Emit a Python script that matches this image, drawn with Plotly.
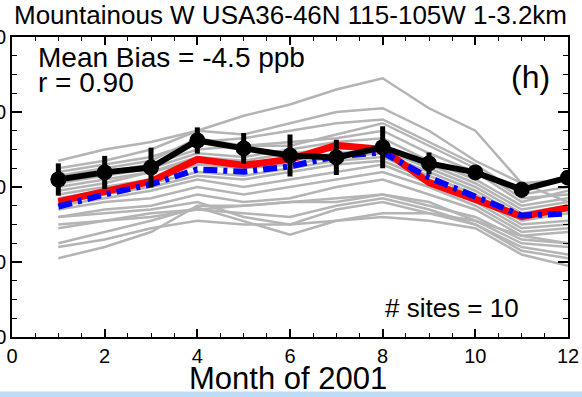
import plotly.graph_objects as go

months = list(range(1, 13))

obs_mean = [42.0, 43.9, 45.2, 52.4, 50.3, 48.4, 47.9, 50.6, 46.3, 43.9, 39.3, 42.5]
obs_err = [4.3, 4.4, 5.3, 3.5, 4.1, 5.6, 4.7, 5.6, 2.9, 0.8, 2.1, 0.8]
model_red = [36.1, 38.8, 41.5, 47.4, 45.8, 47.4, 51.1, 50.0, 41.2, 36.7, 32.1, 34.5]
model_blue = [34.8, 38.0, 40.7, 44.7, 44.1, 45.5, 48.2, 49.2, 42.5, 37.5, 32.4, 32.9]

gray_sites = [
    [47, 50, 52, 55, 59, 62, 66, 69, 61, 55, 41, 36],
    [45, 47, 50, 55, 54, 57, 60, 61, 55, 47, 41, 42],
    [44, 46, 48, 52, 53, 55, 57, 58, 52, 46, 38, 40],
    [43, 45, 47, 53, 51, 51, 54, 57, 51, 45, 37, 38],
    [42, 44, 46, 50, 51, 52, 53, 55, 49, 44, 36, 39],
    [41, 43, 45, 49, 48, 50, 52, 53, 47, 42, 35, 37],
    [40, 42, 44, 48, 47, 49, 50, 51, 46, 41, 34, 36],
    [39, 41, 44, 47, 46, 47, 49, 50, 45, 40, 33, 35],
    [38, 40, 42, 46, 45, 46, 48, 49, 44, 39, 32, 34],
    [37, 39, 41, 44, 43, 45, 47, 48, 43, 38, 31, 33],
    [36, 38, 40, 43, 42, 44, 46, 47, 42, 37, 30, 31],
    [35, 37, 39, 42, 40, 42, 44, 46, 41, 36, 29, 30],
    [34, 36, 37, 40, 38, 40, 42, 44, 40, 35, 28, 29],
    [32, 34, 35, 38, 36, 37, 40, 42, 38, 34, 27, 28],
    [32, 33, 34, 36, 32, 30, 34, 36, 33, 31, 25, 24],
    [30, 31, 32, 34, 33, 32, 35, 37, 34, 30, 24, 22],
    [29, 31, 33, 34, 35, 36, 36, 38, 35, 32, 26, 25],
    [25, 28, 31, 34.5, 31, 27.3, 31, 33, 33, 30, 23, 21],
    [24, 26, 29, 31, 30, 30, 31, 32, 31, 29, 22, 19],
    [21, 24, 28, 35, 35, 36, 37, 38, 36, 31, 27, 25],
]

x_ticks = [0, 2, 4, 6, 8, 10, 12]
y_ticks = [0, 20, 40, 60, 80]

title_text = "Mountainous W USA36-46N 115-105W 1-3.2km"
xlabel = "Month of 2001"
bias_text = "Mean Bias = -4.5 ppb"
r_text = "r = 0.90"
panel_text = "(h)"
sites_text = "# sites = 10"

FONT = "Liberation Sans, Arial, sans-serif"

fig = go.Figure()

for s in gray_sites:
    fig.add_trace(go.Scatter(x=months, y=s, mode="lines",
                             line=dict(color="#b4b4b4", width=2.5),
                             showlegend=False, hoverinfo="skip"))

fig.add_trace(go.Scatter(x=months, y=model_red, mode="lines",
                         line=dict(color="#ff0000", width=7), showlegend=False))
fig.add_trace(go.Scatter(x=months, y=model_blue, mode="lines",
                         line=dict(color="#0000ff", width=6, dash="14px,6px,4px,6px"),
                         showlegend=False))
fig.add_trace(go.Scatter(x=months, y=obs_mean, mode="lines+markers",
                         line=dict(color="black", width=6),
                         marker=dict(color="black", size=16, symbol="circle"),
                         error_y=dict(type="data", array=obs_err, color="black",
                                      thickness=5, width=0),
                         showlegend=False))

axis_common = dict(showline=True, linecolor="black", linewidth=1.5, mirror="allticks",
                   showgrid=False, zeroline=False, ticks="inside", automargin=False,
                   tickcolor="black", tickwidth=1.5,
                   tickfont=dict(family=FONT, size=20, color="black"))

fig.update_xaxes(range=[0, 12], tickvals=x_ticks, ticklen=8,
                 minor=dict(dtick=0.5, ticklen=4, ticks="inside", tickcolor="black", tickwidth=1.2),
                 **axis_common)
fig.update_yaxes(range=[0, 80], tickvals=y_ticks, ticklen=10,
                 minor=dict(dtick=5, ticklen=5, ticks="inside", tickcolor="black", tickwidth=1.2),
                 **axis_common)

def note(text, x, y, size, xanchor="left"):
    fig.add_annotation(text=text, x=x, y=y, xref="paper", yref="paper",
                       xanchor=xanchor, yanchor="middle", showarrow=False,
                       font=dict(family=FONT, size=size, color="black"))

note(title_text, 0.5, 1.073, 26, "center")
note(bias_text, 0.043, 0.933, 28)
note(r_text, 0.043, 0.85, 28)
note(panel_text, 0.932, 0.867, 32, "center")
note(sites_text, 0.667, 0.097, 26)
note(xlabel, 0.496, -0.137, 31, "center")

fig.add_shape(type="rect", xref="paper", yref="paper", x0=-0.05, x1=1.05,
              y0=-0.2, y1=-0.182, fillcolor="#bcdcf8", line=dict(width=0), layer="below")

fig.update_layout(width=582, height=397, plot_bgcolor="white", paper_bgcolor="white",
                  margin=dict(l=12, r=14, t=37, b=60), showlegend=False)

fig.write_html("out.html", config={"displayModeBar": False},
               post_script="document.body.style.margin='0px';document.body.style.overflow='hidden';")
